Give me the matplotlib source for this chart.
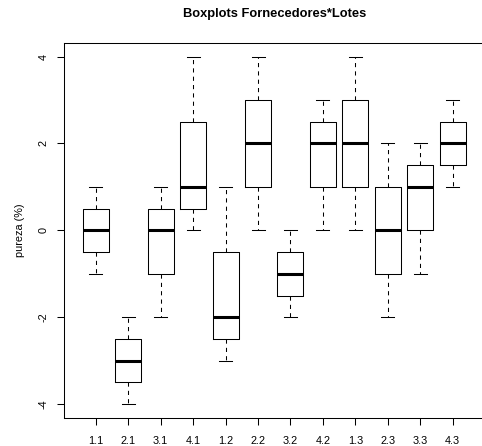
import matplotlib
matplotlib.use("Agg")
import matplotlib.pyplot as plt

# grupos Fornecedor.Lote e os cinco numeros de cada boxplot
grupos = ["1.1", "2.1", "3.1", "4.1", "1.2", "2.2", "3.2", "4.2", "1.3", "2.3", "3.3", "4.3"]
minimo = [-1, -4, -2, 0, -3, 0, -2, 0, 0, -2, -1, 1]
q1 = [-0.5, -3.5, -1, 0.5, -2.5, 1, -1.5, 1, 1, -1, 0, 1.5]
mediana = [0, -3, 0, 1, -2, 2, -1, 2, 2, 0, 1, 2]
q3 = [0.5, -2.5, 0.5, 2.5, -0.5, 3, -0.5, 2.5, 3, 1, 1.5, 2.5]
maximo = [1, -2, 1, 4, 1, 4, 0, 3, 4, 2, 2, 3]
yticks = [-4, -2, 0, 2, 4]

plt.rcParams['font.family'] = ['Liberation Sans', 'DejaVu Sans']

stats = []
for i in range(len(grupos)):
    stats.append({"label": grupos[i], "whislo": minimo[i], "q1": q1[i], "med": mediana[i],
                  "q3": q3[i], "whishi": maximo[i], "fliers": []})

fig = plt.figure(figsize=(4.82, 4.46), dpi=100)
W, H = 482.0, 446.0
ax = fig.add_axes([64 / W, 1 - 418 / H, (484.5 - 64) / W, (418 - 42.7) / H])

lw = 0.75
ax.bxp(stats, positions=range(1, len(grupos) + 1), widths=0.8, showfliers=False,
       boxprops=dict(color="black", linewidth=lw),
       whiskerprops=dict(color="black", linewidth=lw, linestyle=(0, (4, 4))),
       capprops=dict(color="black", linewidth=lw),
       medianprops=dict(color="black", linewidth=2.2, solid_capstyle="butt"),
       capwidths=0.4)

ax.set_xlim(0.02, 12.98)
ax.set_ylim(-4.32, 4.32)
ax.set_xticks(range(1, len(grupos) + 1))
ax.set_xticklabels(grupos)
ax.set_yticks(yticks)
ax.set_yticklabels([str(v) for v in yticks], rotation=90, va="center")
for s in ax.spines.values():
    s.set_linewidth(lw)
ax.tick_params(axis="both", direction="out", length=5, width=lw, labelsize=7.8)
ax.tick_params(axis="x", pad=8)
ax.tick_params(axis="y", pad=6)
ax.set_ylabel("pureza (%)", fontsize=7.8, labelpad=10)
fig.text(275 / W, 1 - 14 / H, "Boxplots Fornecedores*Lotes", ha="center", va="center",
         fontsize=9.3, fontweight="bold")

fig.savefig("out.png", dpi=100)
